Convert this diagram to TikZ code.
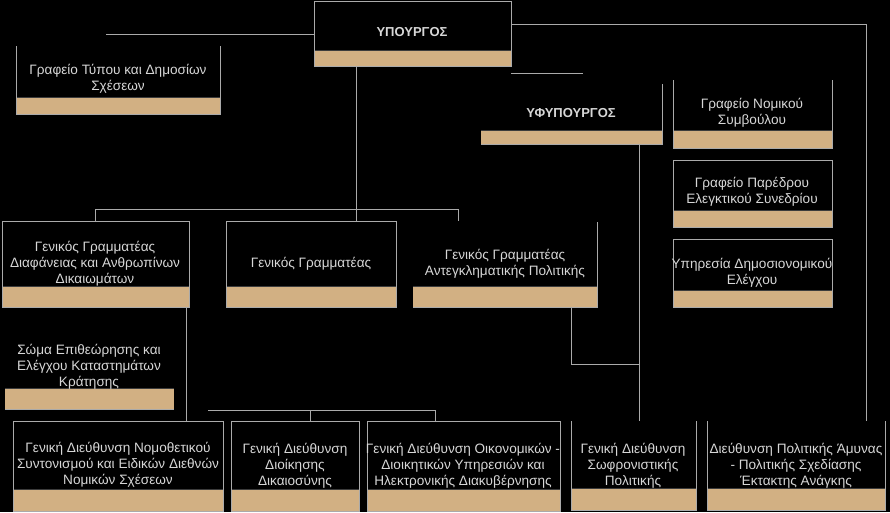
\documentclass[tikz,border=0pt]{standalone}
\usepackage{fontspec}
\setmainfont{Liberation Sans}
\definecolor{bandc}{RGB}{210,176,131}
\definecolor{edgec}{RGB}{170,170,170}
\definecolor{bandl}{RGB}{60,60,60}
\definecolor{txtc}{RGB}{215,215,215}
\tikzset{
  edge/.style={draw=edgec, line width=1pt},
  lbl/.style={text=txtc, inner sep=0pt, align=center, font=\fontsize{13.6}{16}\selectfont},
  hlbl/.style={text=txtc, inner sep=0pt, align=center, font=\bfseries\fontsize{13}{15}\selectfont},
}
\newcommand\obox[6]{%
  \coordinate (#1-nw) at (#2,#3);
  \coordinate (#1-se) at (#4,#5);
  \fill[bandc] (#2,#6) rectangle (#4,#5);
  \draw[bandl, line width=0.9pt] (#2,#6) -- (#4,#6);
}
\begin{document}
\begin{tikzpicture}[x=1pt,y=-1pt]
\useasboundingbox (0,0) rectangle (890,512);
\fill[black] (0,0) rectangle (890,512);

% boxes: bands
\obox{min}{314}{1}{511}{66}{50}
\obox{typ}{16}{46}{220}{114}{97}
\obox{yfy}{481}{84}{662}{144}{130}
\obox{nom}{673}{80}{832}{148}{130}
\obox{par}{673}{160}{832}{227}{210}
\obox{dim}{673}{239}{832}{307}{290}
\obox{dia}{2}{221}{189}{307}{286}
\obox{gg}{226}{221}{396}{307}{286}
\obox{ant}{413}{222}{597}{307}{286}
\obox{som}{5}{388}{174}{409}{388}
\obox{nmt}{13}{421}{223}{511}{489}
\obox{dik}{231}{421}{359}{511}{489}
\obox{oik}{367}{421}{560}{511}{489}
\obox{swf}{571}{421}{696}{510}{488}
\obox{amy}{707}{421}{885}{510}{488}

% borders
\draw[edge] (min-nw) rectangle (min-se);
\draw[edge] (typ-nw) |- (typ-se) -- (typ-se |- typ-nw);
\draw[edge] (yfy-nw |- yfy-se) -| (662,84);
\draw[edge] (nom-nw) |- (nom-se) -- (nom-se |- nom-nw);
\draw[edge] (par-nw) rectangle (par-se);
\draw[edge] (dim-nw) rectangle (dim-se);
\draw[edge] (dia-nw) rectangle (dia-se);
\draw[edge] (gg-nw) rectangle (gg-se);
\draw[edge] (ant-nw |- ant-se) -| (ant-se |- ant-nw);
\draw[edge] (som-nw |- som-se) -- (som-se);
\draw[edge] (nmt-nw) rectangle (nmt-se);
\draw[edge] (dik-nw) rectangle (dik-se);
\draw[edge] (oik-nw) rectangle (oik-se);
\draw[edge] (swf-nw) |- (swf-se) -- (swf-se |- swf-nw);
\draw[edge] (amy-nw) |- (amy-se) -- (amy-se |- amy-nw);

% labels
\node[hlbl] (tmin) at (412,32) {ΥΠΟΥΡΓΟΣ};
\node[lbl] (ttyp) at (118,79) {Γραφείο Τύπου και Δημοσίων\\Σχέσεων};
\node[hlbl] (tyfy) at (571,113) {ΥΦΥΠΟΥΡΓΟΣ};
\node[lbl] (tnom) at (752,113) {Γραφείο Νομικού\\Συμβούλου};
\node[lbl] (tpar) at (752,192) {Γραφείο Παρέδρου\\Ελεγκτικού Συνεδρίου};
\node[lbl] (tdim) at (752,273) {Υπηρεσία Δημοσιονομικού\\Ελέγχου};
\node[lbl] (tdia) at (95,264) {Γενικός Γραμματέας\\Διαφάνειας και Ανθρωπίνων\\Δικαιωμάτων};
\node[lbl] (tgg) at (311,264) {Γενικός Γραμματέας};
\node[lbl] (tant) at (505,264) {Γενικός Γραμματέας\\Αντεγκληματικής Πολιτικής};
\node[lbl] (tsom) at (89,367) {Σώμα Επιθεώρησης και\\Ελέγχου Καταστημάτων\\Κράτησης};
\node[lbl] (tnmt) at (118,465) {Γενική Διεύθυνση Νομοθετικού\\Συντονισμού και Ειδικών Διεθνών\\Νομικών Σχέσεων};
\node[lbl] (tdik) at (295,466) {Γενική Διεύθυνση\\Διοίκησης\\Δικαιοσύνης};
\node[lbl] (toik) at (463,466) {Γενική Διεύθυνση Οικονομικών -\\Διοικητικών Υπηρεσιών και\\Ηλεκτρονικής Διακυβέρνησης};
\node[lbl] (tswf) at (633,466) {Γενική Διεύθυνση\\Σωφρονιστικής\\Πολιτικής};
\node[lbl] (tamy) at (796,466) {Διεύθυνση Πολιτικής Άμυνας\\- Πολιτικής Σχεδίασης\\Έκτακτης Ανάγκης};

% connector coordinates
\coordinate (c1) at (106,34);
\coordinate (c2) at (866,24);
\coordinate (c3) at (583,73);
\coordinate (c4) at (95,209);
\coordinate (c5) at (458,209);
\coordinate (c6) at (208,410);
\coordinate (c7) at (435,410);

% connectors
\draw[edge] (c1) -- (min-nw |- c1);
\draw[edge] (min-se |- c2) -- (c2) -- (c2 |- amy-nw);
\draw[edge] (min-se |- c3) -- (c3);
\draw[edge] (356,66) -- (356,221);
\draw[edge] (c4 |- dia-nw) -- (c4) -- (c5) -- (c5 |- gg-nw);
\draw[edge] (639,144) -- (639,421);
\draw[edge] (571,307) -- (571,364) -- (639,364);
\draw[edge] (186,307) -- (186,421);
\draw[edge] (c6) -- (c7) -- (c7 |- oik-nw);
\draw[edge] (310,410) -- (310,421);
\end{tikzpicture}
\end{document}
